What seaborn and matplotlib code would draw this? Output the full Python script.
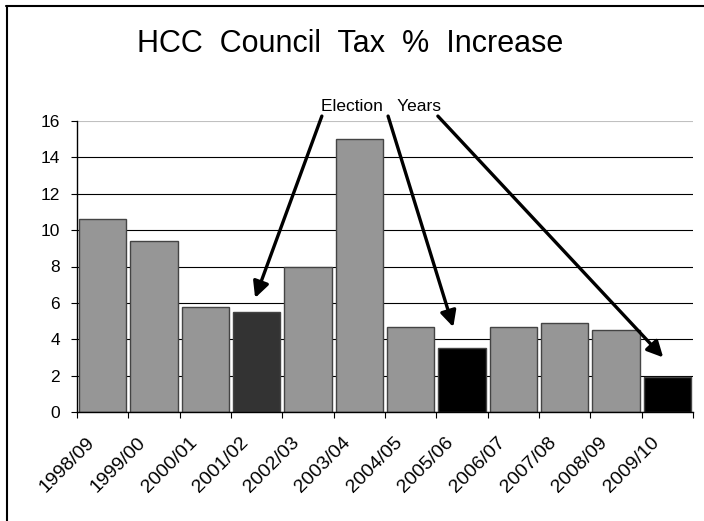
import numpy as np
import pandas as pd
import matplotlib
matplotlib.use("Agg")
import matplotlib.pyplot as plt
from matplotlib.lines import Line2D
from matplotlib.transforms import ScaledTranslation
import seaborn as sns

# dades
seasons = ["1998/09", "1999/00", "2000/01", "2001/02", "2002/03", "2003/04",
           "2004/05", "2005/06", "2006/07", "2007/08", "2008/09", "2009/10"]
increase = [10.6, 9.4, 5.8, 5.5, 8.0, 15.0, 4.7, 3.5, 4.7, 4.9, 4.5, 1.9]
election_idx = [3, 7, 11]
bar_colors = ["#969696"] * 3 + ["#333333"] + ["#969696"] * 3 + ["#000000"] + ["#969696"] * 3 + ["#000000"]

df = pd.DataFrame({"season": seasons, "increase": increase})

sns.set_style("white")
plt.rcParams["font.family"] = ["Liberation Sans", "DejaVu Sans"]
plt.rcParams["text.color"] = "black"
plt.rcParams["xtick.color"] = "black"
plt.rcParams["ytick.color"] = "black"

fig = plt.figure(figsize=(7.04, 5.21), dpi=100)
ax = fig.add_axes([77 / 704, 109 / 521, 616 / 704, 291 / 521])

sns.barplot(data=df, x="season", y="increase", hue="season", palette=bar_colors,
            legend=False, width=0.92, edgecolor="#444444", linewidth=1,
            saturation=1, ax=ax)

ax.set_xlim(-0.5, len(seasons) - 0.5)
ax.set_ylim(0, 16)
ax.set_yticks(np.arange(0, 17, 2))
ax.set_xlabel("")
ax.set_ylabel("")

# graella
ax.set_axisbelow(True)
ax.yaxis.grid(True, color="black", linewidth=0.8)
ax.get_ygridlines()[-1].set_color("#c0c0c0")

for s in ["top", "right"]:
    ax.spines[s].set_visible(False)
for s in ["left", "bottom"]:
    ax.spines[s].set_color("black")
    ax.spines[s].set_linewidth(1)

ax.tick_params(axis="y", direction="out", length=4.3, width=0.8, labelsize=12.5, pad=8, left=True)

# ticks de l'eix x entre categories
ax.set_xticks(np.arange(len(seasons)))
ax.set_xticks(np.arange(-0.5, len(seasons)), minor=True)
ax.tick_params(axis="x", which="minor", direction="out", length=4.3, width=0.8, bottom=True)
ax.tick_params(axis="x", which="major", length=0, labelsize=14, pad=20)
ax.set_xticklabels(seasons, rotation=45, ha="right", va="center", rotation_mode="anchor")
for lab in ax.get_xticklabels():
    lab.set_transform(lab.get_transform() + ScaledTranslation(-0.11, 0, fig.dpi_scale_trans))

# títol
fig.text(350 / 704, 1 - 44 / 521, "HCC  Council  Tax  %  Increase", ha="center", va="center", fontsize=22)

# anotació anys electorals
ax.text(5.42, 16.8, "Election   Years", ha="center", va="center", fontsize=12.5, clip_on=False)
starts = [(4.27, 16.27), (5.56, 16.27), (6.53, 16.27)]
tip_dx = [-0.03, -0.17, -0.08]
tip_dy = [0.77, 1.17, 1.1]
for (sx, sy), i, dx, dy in zip(starts, election_idx, tip_dx, tip_dy):
    ax.annotate("", xy=(i + dx, increase[i] + dy), xytext=(sx, sy),
                arrowprops=dict(arrowstyle="-|>", color="black", lw=2.4,
                                mutation_scale=24, shrinkA=0, shrinkB=0),
                annotation_clip=False)

# marc
fig.add_artist(Line2D([6 / 704, 1], [1 - 5.5 / 521, 1 - 5.5 / 521], color="black", lw=1.5, transform=fig.transFigure))
fig.add_artist(Line2D([6.5 / 704, 6.5 / 704], [0, 1 - 5.5 / 521], color="black", lw=1.5, transform=fig.transFigure))

fig.savefig("out.png", dpi=100)
